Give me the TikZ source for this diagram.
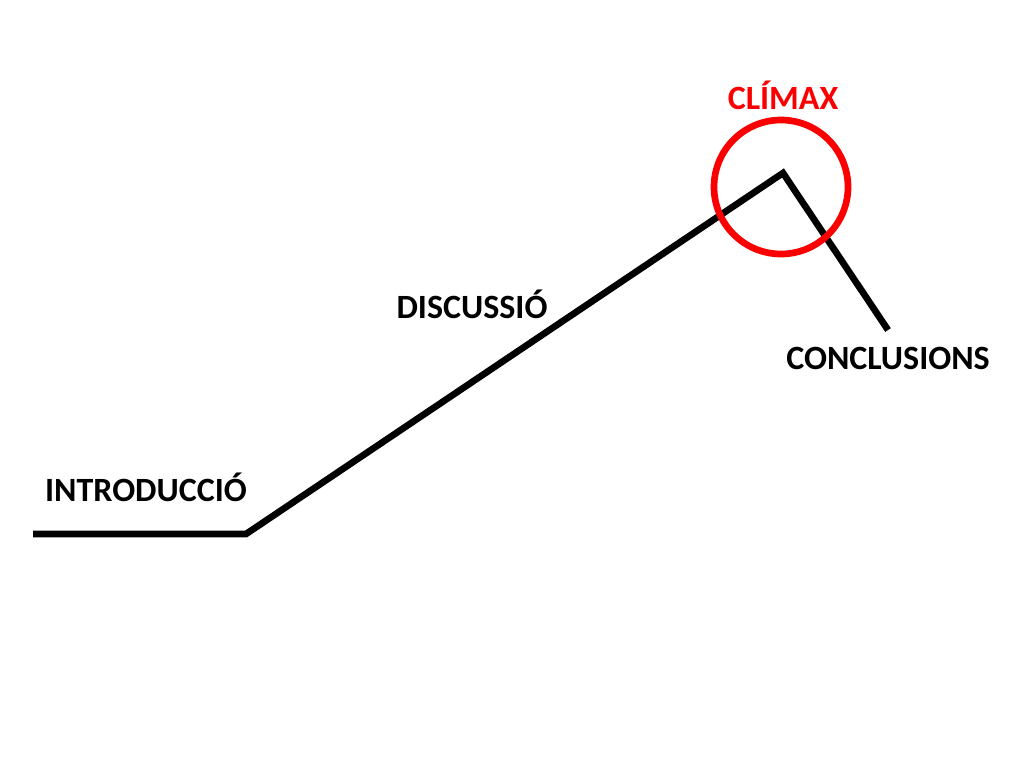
\documentclass[tikz,border=0pt]{standalone}
\usepackage{fontspec}
\setmainfont{Carlito}
\begin{document}
\begin{tikzpicture}[x=0.75pt,y=-0.75pt,
  lbl/.style={font=\fontsize{25.5}{30}\selectfont\bfseries, inner sep=0pt},
  plot/.style={line width=5pt, black},
  ring/.style={line width=5pt, draw={rgb,255:red,250;green,0;blue,0}}]
\useasboundingbox[fill=white] (0,0) rectangle (1024,768);
\coordinate (s) at (33,534);
\coordinate (b) at (246,534);
\coordinate (p) at (783,173);
\coordinate (e) at (888,330);
\draw[plot] (s) -- (b) -- (p) -- (e);
\node[ring, circle, minimum size=134*0.75pt, inner sep=0pt] (c) at (781,187) {};
\node[lbl] (intro) at (146,487) {INTRODUCCIÓ};
\node[lbl] (disc) at (472,304) {DISCUSSIÓ};
\node[lbl] (conc) at (888,358) {CONCLUSIONS};
\node[lbl, text={rgb,255:red,250;green,0;blue,0}] (clim) at (783,95) {CLÍMAX};
\end{tikzpicture}
\end{document}
